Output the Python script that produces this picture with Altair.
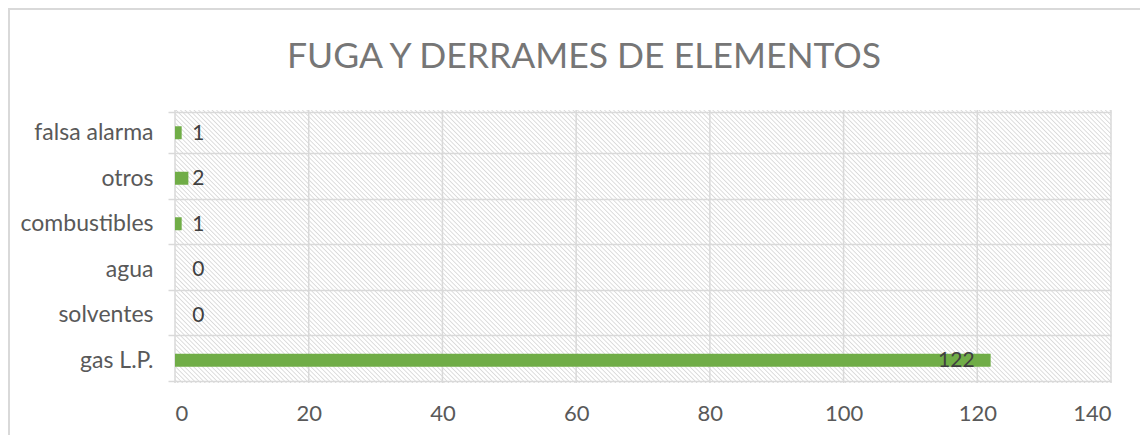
import altair as alt
import pandas as pd

title_text = "FUGA Y DERRAMES DE ELEMENTOS"
categories = ["falsa alarma", "otros", "combustibles", "agua", "solventes", "gas L.P."]
values = [1, 2, 1, 0, 0, 122]
x_ticks = [0, 20, 40, 60, 80, 100, 120, 140]

df = pd.DataFrame({"cat": categories, "val": values})
ticks_df = pd.DataFrame({"val": x_ticks})

W, H = 936, 273

# diagonal hatch for plot background (linear gradient with many soft stops)
r = W / H
vx, vy = 1.0, -1.0 / r
t = (1 + 1.0 / r) / (vx * vx + vy * vy)
x2g, y2g = t * vx, 1 + t * vy
L = (W + H) / 2 ** 0.5
period = 4.5 / 2 ** 0.5
n = int(L / period)
stops = []
for k in range(n):
    stops += [
        alt.GradientStop(offset=k / n, color="#ffffff"),
        alt.GradientStop(offset=(k + 0.45) / n, color="#ffffff"),
        alt.GradientStop(offset=(k + 0.72) / n, color="#d9d9d9"),
    ]
stops.append(alt.GradientStop(offset=1, color="#ffffff"))
hatch = alt.LinearGradient(gradient="linear", x1=0, y1=1, x2=x2g, y2=y2g, stops=stops)

font = "Lato"
ysort = categories

xscale = alt.Scale(domain=[0, 140], nice=False)
one = pd.DataFrame({"k": [0]})

bg = alt.Chart(one).mark_rect(fill=hatch, stroke=None).encode(
    x=alt.value(0), x2=alt.value("width"), y=alt.value(0), y2=alt.value("height")
)

vgrid = alt.Chart(ticks_df).mark_rule(color="#d9d9d9", strokeWidth=1.5).encode(
    x=alt.X("val:Q", scale=xscale)
)

base = alt.Chart(df)

bars = base.mark_bar(color="#70ad47", size=13).encode(
    x=alt.X(
        "val:Q",
        scale=xscale,
        axis=alt.Axis(
            values=x_ticks,
            title=None,
            grid=False,
            domain=False,
            ticks=False,
            labelFont=font,
            labelFontSize=22,
            labelColor="#595959",
            labelPadding=20,
        ),
    ),
    y=alt.Y(
        "cat:N",
        sort=ysort,
        axis=alt.Axis(
            title=None,
            grid=True,
            gridColor="#d9d9d9",
            gridWidth=1.5,
            tickBand="extent",
            ticks=True,
            tickSize=7,
            tickColor="#d9d9d9",
            tickWidth=1.5,
            domain=False,
            zindex=1,
            labelFont=font,
            labelFontSize=23,
            labelColor="#595959",
            labelPadding=15,
        ),
    ),
)

small_labels = base.transform_filter("datum.val < 100").transform_calculate(
    lx="max(datum.val, 2)"
).mark_text(
    align="left", baseline="middle", dx=4, dy=1, font=font, fontSize=21, color="#404040"
).encode(x="lx:Q", y=alt.Y("cat:N", sort=ysort), text="val:Q")

big_labels = base.transform_filter("datum.val >= 100").mark_text(
    align="right", baseline="middle", dx=-16, dy=1, font=font, fontSize=21, color="#404040"
).encode(x="val:Q", y=alt.Y("cat:N", sort=ysort), text="val:Q")

border = alt.Chart(one).mark_rect(
    fill=None, stroke="#d9d9d9", strokeWidth=2
).encode(x=alt.value(-166), x2=alt.value(1300), y=alt.value(-101), y2=alt.value(600))

title = alt.Chart(one).mark_text(
    align="center", baseline="alphabetic", font=font, fontSize=35.5, color="#767676"
).encode(x=alt.value(409), y=alt.value(-42), text=alt.value(title_text))

chart = (
    alt.layer(bg, vgrid, bars, small_labels, big_labels, border, title)
    .properties(
        width=W,
        height=H,
        autosize=alt.AutoSizeParams(type="none"),
        padding={"left": 167, "top": 102, "right": 29, "bottom": 52},
    )
    .configure_view(stroke=None)
)

chart.save("out.html", embed_options={"renderer": "svg", "actions": False})
